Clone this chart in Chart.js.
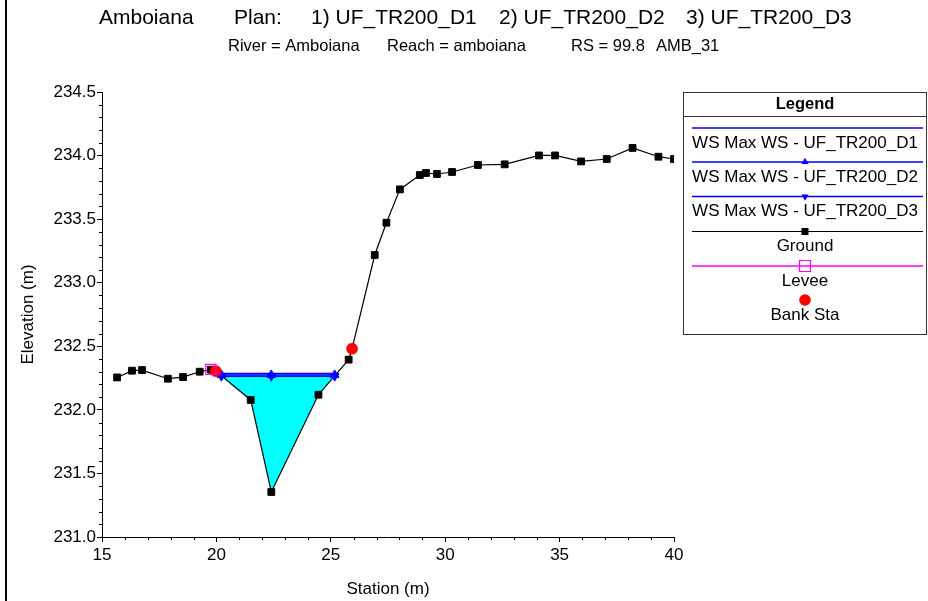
<!DOCTYPE html>
<html><head><meta charset="utf-8">
<script src="https://cdn.jsdelivr.net/npm/chart.js@4/dist/chart.umd.min.js"></script>
<style>
html,body{margin:0;padding:0;background:#fff;}
#wrap{position:relative;width:928px;height:601px;overflow:hidden;}
#frame{position:absolute;left:5px;top:0;width:2px;height:601px;background:#000;}
canvas{position:absolute;left:0;top:0;}
</style></head><body>
<div id="wrap"><div id="frame"></div><canvas id="c" width="928" height="601"></canvas></div>
<script>
// ---- data ----
const groundStation = [15.66,16.31,16.75,17.88,18.54,19.27,19.76,19.97,21.50,22.40,24.46,25.78,25.93,26.92,27.43,28.02,28.89,29.16,29.64,30.30,31.43,32.60,34.10,34.80,35.94,37.06,38.19,39.32,40.00];
const groundElev    = [232.255,232.308,232.313,232.245,232.258,232.300,232.316,232.305,232.078,231.354,232.119,232.395,232.481,233.218,233.472,233.734,233.847,233.863,233.855,233.871,233.926,233.931,234.001,234.001,233.954,233.973,234.060,233.991,233.973];
const wsStation = [20.22, 22.40, 25.17];
const wsD1 = 232.285;
const wsD2 = 232.275;
const wsD3 = 232.265;
const leveeStation = [19.76];
const leveeElev = [232.318];
const bankStation = [19.97, 25.93];
const bankElev = [232.305, 232.481];
const xTicks = [15, 20, 25, 30, 35, 40];
const yTicks = [231.0, 231.5, 232.0, 232.5, 233.0, 233.5, 234.0, 234.5];
const seriesLabels = ['WS Max WS - UF_TR200_D1','WS Max WS - UF_TR200_D2','WS Max WS - UF_TR200_D3','Ground','Levee','Bank Sta'];
const titleParts = ['Amboiana', 'Plan:', '1) UF_TR200_D1', '2) UF_TR200_D2', '3) UF_TR200_D3'];
const subtitleParts = ['River = Amboiana', 'Reach = amboiana', 'RS = 99.8', 'AMB_31'];

// ---- derived ----
const FONT = "'Liberation Sans', Arial, Helvetica, sans-serif";
Chart.defaults.font.family = FONT;
Chart.defaults.color = '#000';
const pts = (xs, ys) => xs.map((x, i) => ({x, y: ys[i]}));
const wsLine = (v) => wsStation.map(x => ({x, y: v}));
const wsL = wsStation[0], wsR = wsStation[wsStation.length - 1];
const waterPts = [{x: wsL, y: wsD3}]
  .concat(groundStation.map((x, i) => ({x, y: groundElev[i]})).filter(p => p.x > wsL && p.x < wsR))
  .concat([{x: wsR, y: wsD3}]);

const BLUE = '#0000ff', MAG = '#ff00ff', RED = '#ff0000';

const datasets = [
  {label: seriesLabels[0], data: wsLine(wsD1), borderColor: BLUE, borderWidth: 1.5, pointRadius: 0, order: 1},
  {label: seriesLabels[1], data: wsLine(wsD2), borderColor: BLUE, borderWidth: 1.5, pointStyle: 'triangle', pointRadius: 5, pointBackgroundColor: BLUE, pointBorderColor: BLUE, pointBorderWidth: 1, order: 1},
  {label: seriesLabels[2], data: wsLine(wsD3), borderColor: BLUE, borderWidth: 1.5, pointStyle: 'triangle', pointRotation: 180, pointRadius: 5, pointBackgroundColor: BLUE, pointBorderColor: BLUE, pointBorderWidth: 1, order: 1},
  {label: seriesLabels[3], data: pts(groundStation, groundElev), borderColor: '#000', borderWidth: 1.2, pointStyle: 'rect', pointRadius: 4.8, pointBackgroundColor: '#000', pointBorderColor: '#000', pointBorderWidth: 1, order: 2},
  {label: seriesLabels[4], data: pts(leveeStation, leveeElev), showLine: false, pointStyle: 'rect', pointRadius: 7.2, pointBackgroundColor: 'rgba(0,0,0,0)', pointBorderColor: MAG, pointBorderWidth: 1.2, borderColor: MAG, order: 0},
  {label: seriesLabels[5], data: pts(bankStation, bankElev), showLine: false, pointStyle: 'circle', pointRadius: 5.6, pointBackgroundColor: RED, pointBorderColor: RED, pointBorderWidth: 0.5, borderColor: RED, order: 0},
  {label: 'water', data: waterPts, borderWidth: 0, borderColor: 'rgba(0,0,0,0)', pointRadius: 0, backgroundColor: '#00ffff', fill: {value: wsD3}, order: 20}
];

function sym(ctx, style, x, y, r, fill, stroke, rot) {
  ctx.save();
  ctx.translate(x, y);
  if (rot) ctx.rotate(rot * Math.PI / 180);
  ctx.beginPath();
  if (style === 'triangle') {
    for (let k = 0; k < 3; k++) {
      const a = k * 2 * Math.PI / 3;
      const px = Math.sin(a) * r, py = -Math.cos(a) * r;
      if (k === 0) ctx.moveTo(px, py); else ctx.lineTo(px, py);
    }
    ctx.closePath();
  } else if (style === 'rect') {
    ctx.rect(-r, -r, 2 * r, 2 * r);
  } else {
    ctx.arc(0, 0, r, 0, Math.PI * 2);
  }
  if (fill) { ctx.fillStyle = fill; ctx.fill(); }
  if (stroke) { ctx.strokeStyle = stroke; ctx.lineWidth = 1.2; ctx.stroke(); }
  ctx.restore();
}

const decor = {
  id: 'decor',
  afterDraw(chart) {
    const ctx = chart.ctx;
    const xs = chart.scales.x, ys = chart.scales.y;
    const ca = chart.chartArea;
    ctx.save();
    // minor ticks
    ctx.strokeStyle = '#000';
    ctx.lineWidth = 1;
    ctx.beginPath();
    for (let v = xs.min; v <= xs.max + 1e-9; v += 1) {
      if (Math.abs(v % 5) < 1e-9) continue;
      const px = Math.round(xs.getPixelForValue(v)) + 0.5;
      ctx.moveTo(px, ca.bottom); ctx.lineTo(px, ca.bottom + 3);
    }
    for (let k = 0; k <= 35; k++) {
      if (k % 5 === 0) continue;
      const v = ys.min + k * 0.1;
      const py = Math.round(ys.getPixelForValue(v)) + 0.5;
      ctx.moveTo(ca.left, py); ctx.lineTo(ca.left - 3, py);
    }
    ctx.stroke();

    // titles
    ctx.fillStyle = '#000';
    ctx.textBaseline = 'middle';
    ctx.textAlign = 'left';
    ctx.font = '21px ' + FONT;
    const tx = [99, 234, 311, 499, 686];
    titleParts.forEach((t, i) => ctx.fillText(t, tx[i], 18.5));
    ctx.font = '16.5px ' + FONT;
    const sx = [228, 387, 571, 656];
    subtitleParts.forEach((t, i) => ctx.fillText(t, sx[i], 46));

    // legend
    const L = 683.5, T = 92.5, R = 926.5, B = 334.5, cx = (L + R) / 2;
    ctx.fillStyle = '#fff';
    ctx.fillRect(L, T, R - L, B - T);
    ctx.strokeStyle = '#333';
    ctx.lineWidth = 1;
    ctx.strokeRect(L, T, R - L, B - T);
    ctx.beginPath(); ctx.moveTo(L, 116.5); ctx.lineTo(R, 116.5); ctx.stroke();
    ctx.fillStyle = '#000';
    ctx.textAlign = 'center';
    ctx.font = 'bold 16.5px ' + FONT;
    ctx.fillText('Legend', cx, 104);
    ctx.font = '17px ' + FONT;
    const items = [
      {ds: datasets[0], line: 128, text: 143},
      {ds: datasets[1], line: 162, text: 177, sym: 'triangle', rot: 0},
      {ds: datasets[2], line: 196.5, text: 211.5, sym: 'triangle', rot: 180},
      {ds: datasets[3], line: 231.5, text: 246, sym: 'rect'},
      {ds: datasets[4], line: 266, text: 281, sym: 'orect'},
      {ds: datasets[5], line: null, text: 315.5, sym: 'circle', cy: 300}
    ];
    items.forEach(it => {
      if (it.line !== null) {
        ctx.strokeStyle = it.ds.borderColor;
        ctx.lineWidth = it.ds === datasets[3] ? 1.2 : 1.5;
        ctx.beginPath(); ctx.moveTo(692, it.line); ctx.lineTo(923, it.line); ctx.stroke();
      }
      if (it.sym === 'triangle') sym(ctx, 'triangle', cx, it.line, 4.2, BLUE, null, it.rot);
      if (it.sym === 'rect') sym(ctx, 'rect', cx, it.line, 3.5, '#000', null);
      if (it.sym === 'orect') sym(ctx, 'rect', cx, it.line, 5.5, null, MAG);
      if (it.sym === 'circle') sym(ctx, 'circle', cx, it.cy, 5.8, RED, null);
      ctx.fillStyle = '#000';
      ctx.fillText(it.ds.label, cx, it.text);
    });
    ctx.restore();
  }
};

new Chart(document.getElementById('c'), {
  type: 'line',
  data: {datasets},
  plugins: [decor],
  options: {
    responsive: false,
    animation: false,
    events: [],
    layout: {padding: {top: 92, right: 254, left: 0, bottom: 0}},
    plugins: {legend: {display: false}, tooltip: {enabled: false}, title: {display: false}},
    elements: {line: {tension: 0}},
    scales: {
      x: {
        type: 'linear', min: xTicks[0], max: xTicks[xTicks.length - 1],
        afterBuildTicks: s => { s.ticks = xTicks.map(v => ({value: v})); },
        afterFit: s => { s.height = 64; },
        grid: {drawOnChartArea: false, drawTicks: true, tickLength: 5, color: '#000'},
        border: {display: true, color: '#000', width: 1},
        ticks: {font: {size: 17}, padding: 3, maxRotation: 0, autoSkip: false, color: '#000'},
        title: {display: true, text: 'Station (m)', font: {size: 17}, padding: {top: 0, bottom: 1}, color: '#000'}
      },
      y: {
        type: 'linear', min: yTicks[0], max: yTicks[yTicks.length - 1],
        afterBuildTicks: s => { s.ticks = yTicks.map(v => ({value: v})); },
        afterFit: s => { s.width = 102; },
        grid: {drawOnChartArea: false, drawTicks: true, tickLength: 5, color: '#000'},
        border: {display: true, color: '#000', width: 1},
        ticks: {font: {size: 17}, padding: 1, autoSkip: false, color: '#000', callback: v => Number(v).toFixed(1)},
        title: {display: true, text: 'Elevation (m)', font: {size: 17}, padding: {top: 18, bottom: 0}, color: '#000'}
      }
    }
  }
});
</script>
</body></html>
